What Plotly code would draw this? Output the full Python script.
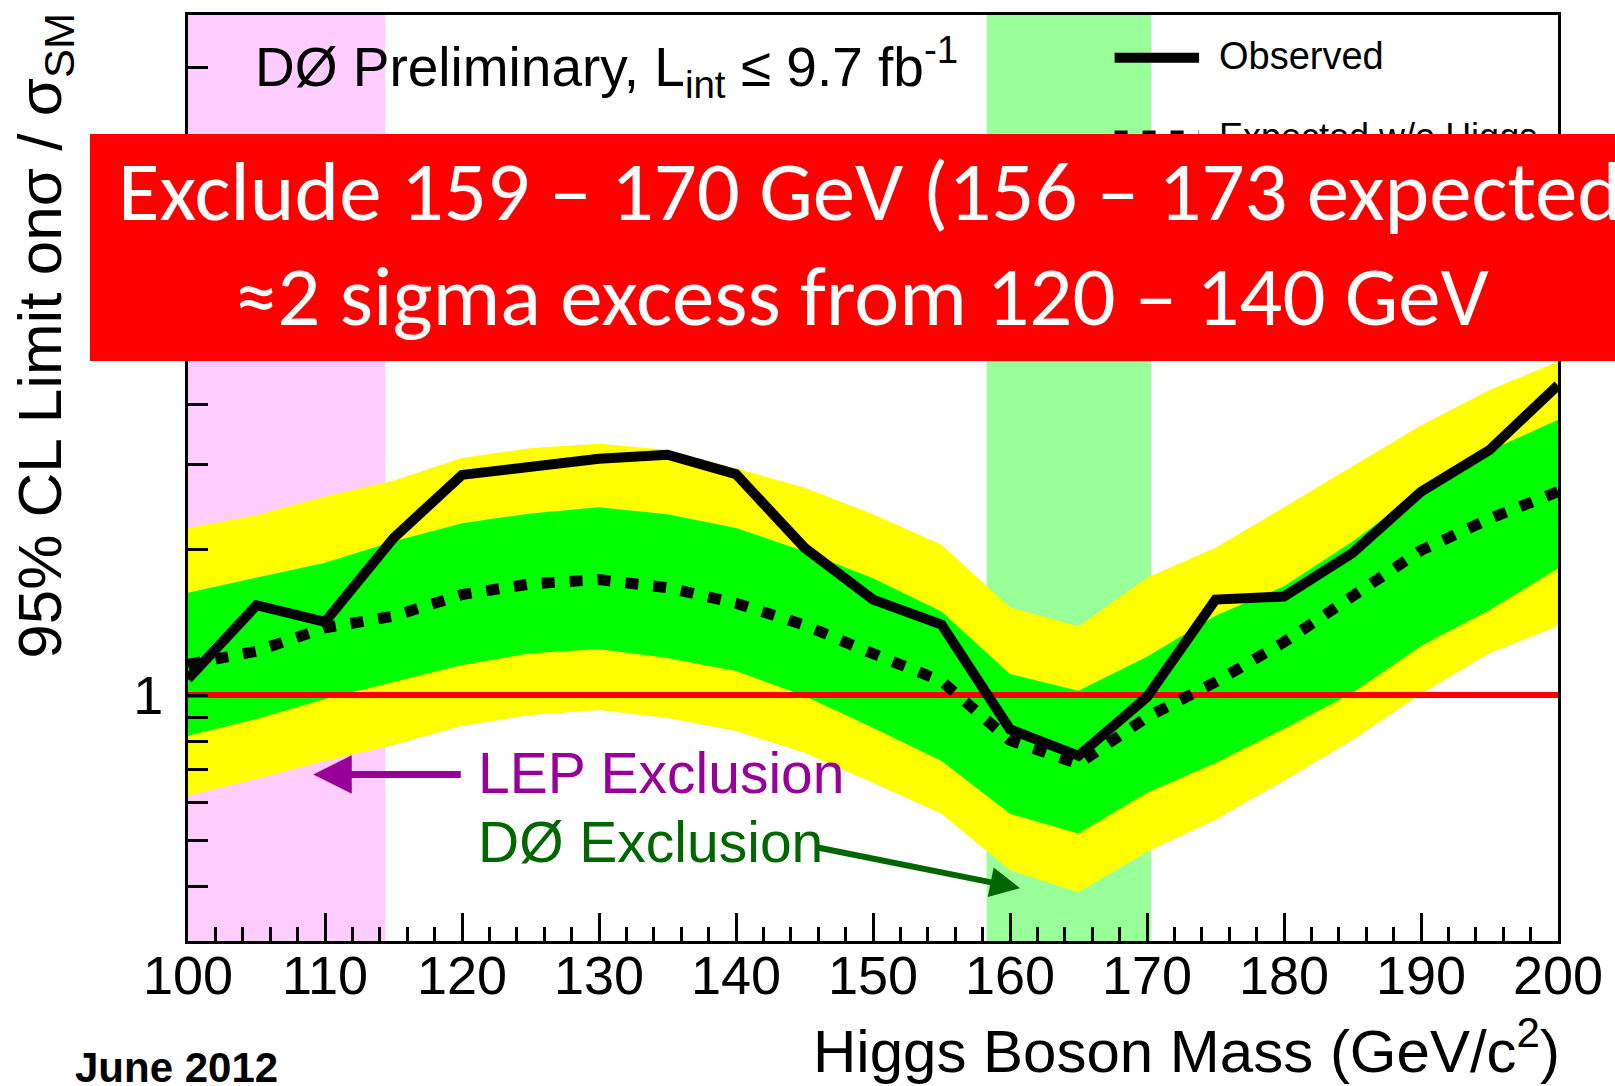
import math
import plotly.graph_objects as go

# ---------------- data ----------------
mass = [100, 105, 110, 115, 120, 125, 130, 135, 140, 145, 150,
        155, 160, 165, 170, 175, 180, 185, 190, 195, 200]

observed = [1.08, 1.535, 1.418, 2.115, 2.86, 2.96, 3.09, 3.15, 2.87, 2.02, 1.577,
            1.40, 0.849, 0.748, 0.99, 1.577, 1.60, 1.97, 2.64, 3.22, 4.39]

expected = [1.157, 1.233, 1.378, 1.457, 1.615, 1.70, 1.735, 1.67, 1.55, 1.396, 1.218,
            1.069, 0.805, 0.72, 0.90, 1.064, 1.287, 1.61, 1.995, 2.32, 2.64]

yellow_hi = [2.22, 2.36, 2.58, 2.78, 3.10, 3.25, 3.32, 3.22, 2.95, 2.69, 2.37,
             2.05, 1.52, 1.389, 1.75, 2.02, 2.45, 2.98, 3.62, 4.29, 4.91]
green_hi = [1.63, 1.75, 1.88, 2.08, 2.27, 2.38, 2.45, 2.37, 2.22, 1.985, 1.746,
            1.49, 1.105, 1.02, 1.20, 1.46, 1.68, 2.08, 2.64, 3.21, 3.72]
green_lo = [0.823, 0.892, 0.981, 1.064, 1.154, 1.221, 1.245, 1.193, 1.121, 0.995, 0.855,
            0.730, 0.567, 0.516, 0.627, 0.723, 0.851, 1.01, 1.263, 1.50, 1.83]
yellow_lo = [0.618, 0.670, 0.730, 0.788, 0.863, 0.909, 0.931, 0.896, 0.842, 0.759, 0.658,
             0.567, 0.433, 0.390, 0.473, 0.551, 0.664, 0.807, 1.005, 1.221, 1.389]

lep_limit = 114.4
d0_exclusion = [158.3, 170.3]
sm_ratio = 1.0

x_range = [100, 200]
y_range = [0.309, 25.7]
y_tickvals = [0.4, 0.5, 0.6, 0.7, 0.8, 0.9, 1, 2, 3, 4, 5, 6, 7, 8, 9, 10, 20]
y_ticktext = ["", "", "", "", "", "", "1", "", "", "", "", "", "", "", "", "10", ""]

box_line1 = "Exclude 159 – 170 GeV (156 – 173 expected)"
box_line2 = "≈2 sigma excess from 120 – 140 GeV"

ROOT_FONT = "Liberation Sans, Arial, Helvetica, sans-serif"
BOX_FONT = "Carlito, Calibri, Lato, sans-serif"

W, H = 1615, 1086
L, R, T, B = 188, 49, 12, 145
PW, PH = W - L - R, H - T - B


def px(xp):
    return (xp - L) / PW


def py(yp):
    return (H - B - yp) / PH


fig = go.Figure()

# 2 sigma band
fig.add_trace(go.Scatter(x=mass, y=yellow_hi, mode="lines", line=dict(width=0, color="#ffff00"),
                         showlegend=False, hoverinfo="skip"))
fig.add_trace(go.Scatter(x=mass, y=yellow_lo, mode="lines", line=dict(width=0, color="#ffff00"),
                         fill="tonexty", fillcolor="#ffff00", showlegend=False, hoverinfo="skip"))
# 1 sigma band
fig.add_trace(go.Scatter(x=mass, y=green_hi, mode="lines", line=dict(width=0, color="#00ff00"),
                         showlegend=False, hoverinfo="skip"))
fig.add_trace(go.Scatter(x=mass, y=green_lo, mode="lines", line=dict(width=0, color="#00ff00"),
                         fill="tonexty", fillcolor="#00ff00", showlegend=False, hoverinfo="skip"))
# SM line
fig.add_trace(go.Scatter(x=x_range, y=[sm_ratio, sm_ratio], mode="lines",
                         line=dict(width=6, color="#ff0000"), showlegend=False, hoverinfo="skip"))
# expected
fig.add_trace(go.Scatter(x=mass, y=expected, mode="lines",
                         line=dict(width=11, color="black", dash="13px,15px"),
                         showlegend=False, name="Expected w/o Higgs"))
# observed
fig.add_trace(go.Scatter(x=mass, y=observed, mode="lines",
                         line=dict(width=10, color="black"), showlegend=False, name="Observed"))

shapes = [
    dict(type="rect", xref="x", yref="paper", x0=x_range[0], x1=lep_limit, y0=0, y1=1,
         fillcolor="#ffccff", line=dict(width=0), layer="below"),
    dict(type="rect", xref="x", yref="paper", x0=d0_exclusion[0], x1=d0_exclusion[1], y0=0, y1=1,
         fillcolor="#99ff99", line=dict(width=0), layer="below"),
    # legend samples
    dict(type="line", xref="paper", yref="paper", x0=px(1120), x1=px(1205), y0=py(55), y1=py(55),
         line=dict(color="black", width=10), layer="above"),
    dict(type="line", xref="paper", yref="paper", x0=px(1120), x1=px(1205), y0=py(133), y1=py(133),
         line=dict(color="black", width=10, dash="13px,15px"), layer="above"),
]

annotations = [
    dict(text="Observed", xref="paper", yref="paper", x=px(1223), y=py(53), xanchor="left",
         yanchor="middle", showarrow=False, font=dict(family=ROOT_FONT, size=38, color="black")),
    dict(text="Expected w/o Higgs", xref="paper", yref="paper", x=px(1223), y=py(134), xanchor="left",
         yanchor="middle", showarrow=False, font=dict(family=ROOT_FONT, size=36, color="black")),
    dict(text="DØ Preliminary, L<sub>int</sub> ≤ 9.7 fb<sup>-1</sup>", xref="paper", yref="paper",
         x=px(253), y=py(64), xanchor="left", yanchor="middle", showarrow=False,
         font=dict(family=ROOT_FONT, size=55, color="black")),
    dict(text="LEP Exclusion", xref="paper", yref="paper", x=px(478), y=py(772), xanchor="left",
         yanchor="middle", showarrow=False, font=dict(family=ROOT_FONT, size=57, color="#990099")),
    dict(text="DØ Exclusion", xref="paper", yref="paper", x=px(478), y=py(842), xanchor="left",
         yanchor="middle", showarrow=False, font=dict(family=ROOT_FONT, size=57, color="#006600")),
    # arrows
    dict(text="", xref="paper", yref="paper", x=px(314), y=py(774), ax=149, ay=0,
         showarrow=True, arrowhead=2, arrowsize=1.1, arrowwidth=7, arrowcolor="#990099"),
    dict(text="", xref="paper", yref="paper", x=px(1025), y=py(888), ax=-204, ay=-41,
         showarrow=True, arrowhead=2, arrowsize=1.0, arrowwidth=6, arrowcolor="#006600"),
    # axis titles
    dict(text="Higgs Boson Mass (GeV/c<sup>2</sup>)", xref="paper", yref="paper",
         x=px(1570), y=py(1047), xanchor="right", yanchor="middle", showarrow=False,
         font=dict(family=ROOT_FONT, size=60, color="black")),
    dict(text="95% CL Limit onσ / σ<sub>SM</sub>", xref="paper", yref="paper",
         x=px(43), y=py(334), xanchor="center", yanchor="middle", textangle=-90, showarrow=False,
         font=dict(family=ROOT_FONT, size=62, color="black")),
    dict(text="<b>June 2012</b>", xref="paper", yref="paper", x=px(72), y=py(1068),
         xanchor="left", yanchor="middle", showarrow=False,
         font=dict(family=ROOT_FONT, size=42, color="black")),
    # red overlay box (drawn last, on top)
    dict(text="&nbsp;", xref="paper", yref="paper", x=px(89), y=py(131), xanchor="left", yanchor="top",
         width=1600, height=227, borderpad=0, borderwidth=0, bgcolor="#ff0000",
         showarrow=False, font=dict(family=BOX_FONT, size=10, color="#ff0000")),
    dict(text=box_line1, xref="paper", yref="paper", x=px(116), y=py(189), xanchor="left",
         yanchor="middle", showarrow=False, font=dict(family=BOX_FONT, size=85, color="white")),
    dict(text=box_line2, xref="paper", yref="paper", x=px(866), y=py(294), xanchor="center",
         yanchor="middle", showarrow=False, font=dict(family=BOX_FONT, size=85, color="white")),
]

fig.update_layout(
    width=W, height=H,
    margin=dict(l=L, r=R, t=T, b=B, pad=0),
    paper_bgcolor="white", plot_bgcolor="white",
    showlegend=False,
    shapes=shapes, annotations=annotations,
    xaxis=dict(range=x_range, tick0=100, dtick=10, ticks="inside", ticklen=28, tickwidth=3,
               tickcolor="black", showline=True, linewidth=3, linecolor="black", mirror=True,
               showgrid=False, zeroline=False, ticklabelstandoff=-15,
               tickfont=dict(family=ROOT_FONT, size=54, color="black"),
               minor=dict(dtick=2, ticks="inside", ticklen=14, tickwidth=3, tickcolor="black",
                          showgrid=False)),
    yaxis=dict(type="log", range=[math.log10(y_range[0]), math.log10(y_range[1])],
               tickmode="array", tickvals=y_tickvals, ticktext=y_ticktext,
               ticks="inside", ticklen=20, tickwidth=3, tickcolor="black",
               showline=True, linewidth=3, linecolor="black", mirror=True,
               showgrid=False, zeroline=False, ticklabelstandoff=11,
               tickfont=dict(family=ROOT_FONT, size=54, color="black")),
)

fig.write_html("out.html")
